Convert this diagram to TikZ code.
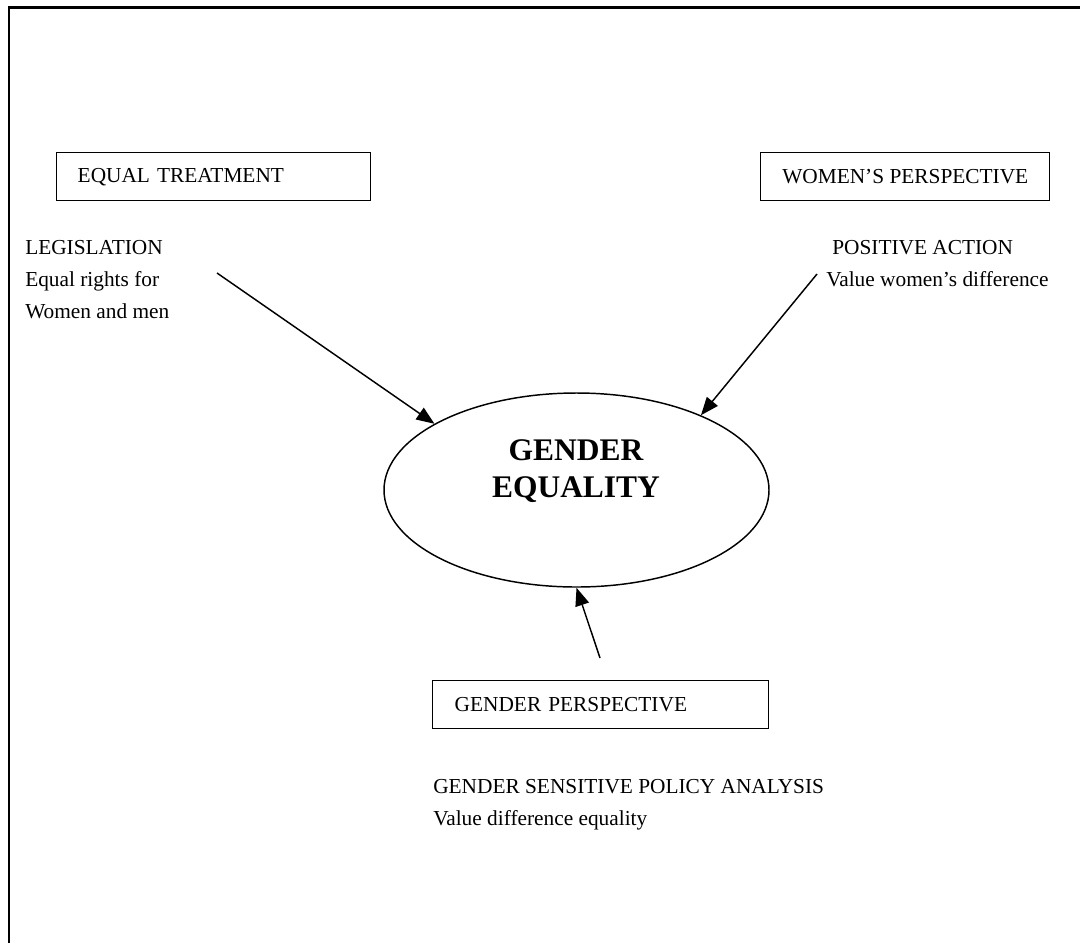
\documentclass[tikz,border=0pt]{standalone}
\usepackage{fontspec}
\setmainfont{Liberation Serif}
\usetikzlibrary{arrows.meta,shapes.geometric}
\begin{document}
\begin{tikzpicture}[x=0.75pt,y=-0.75pt,
  box/.style={draw, line width=1.1pt, rectangle, anchor=north west, minimum height=36pt,
    inner ysep=0pt, align=left, font=\fontsize{16}{19}\selectfont},
  txt/.style={anchor=base west, inner sep=0pt, font=\fontsize{16}{19}\selectfont},
  arr/.style={-{Triangle[length=13.5pt,width=10.5pt]}, line width=1.1pt}]
\useasboundingbox (0,0) rectangle (1080,943);
\draw[line width=1.9pt] (9,943) -- (9,7.5) -- (1080,7.5);

% boxes
\node[box, inner xsep=15.75pt, text width=204pt] (et) at (56,152) {EQUAL TREATMENT};
\node[box, align=center, minimum width=216.75pt] (wp) at (760,152) {WOMEN’S PERSPECTIVE};
\node[box, inner xsep=16.5pt, text width=219pt] (gp) at (432,680) {GENDER PERSPECTIVE};

% ellipse
\node[draw, ellipse, line width=1.1pt, minimum width=288.75pt, minimum height=145.5pt, inner sep=0pt] (ge) at (576.5,490) {};
\node[align=center, font=\fontsize{23.6}{27.75}\selectfont\bfseries] (get) at (576,471) {GENDER\\EQUALITY};

% side texts
\node[txt] (leg) at (25,254) {LEGISLATION};
\node[txt] (eqr) at (25,286) {Equal rights for};
\node[txt] (wam) at (25,318) {Women and men};
\node[txt] (pa) at (832,254) {POSITIVE ACTION};
\node[txt] (vwd) at (826,286) {Value women’s difference};
\node[txt] (gsp) at (433,793) {GENDER SENSITIVE POLICY ANALYSIS};
\node[txt] (vde) at (433,825) {Value difference equality};

% arrows
\coordinate (ls) at (217,273);
\coordinate (rs) at (817,274);
\coordinate (bs) at (600,658);
\draw[arr] (ls) -- (ge.155);
\draw[arr] (rs) -- (ge.31);
\draw[arr] (bs) -- (ge.270);
\end{tikzpicture}
\end{document}
